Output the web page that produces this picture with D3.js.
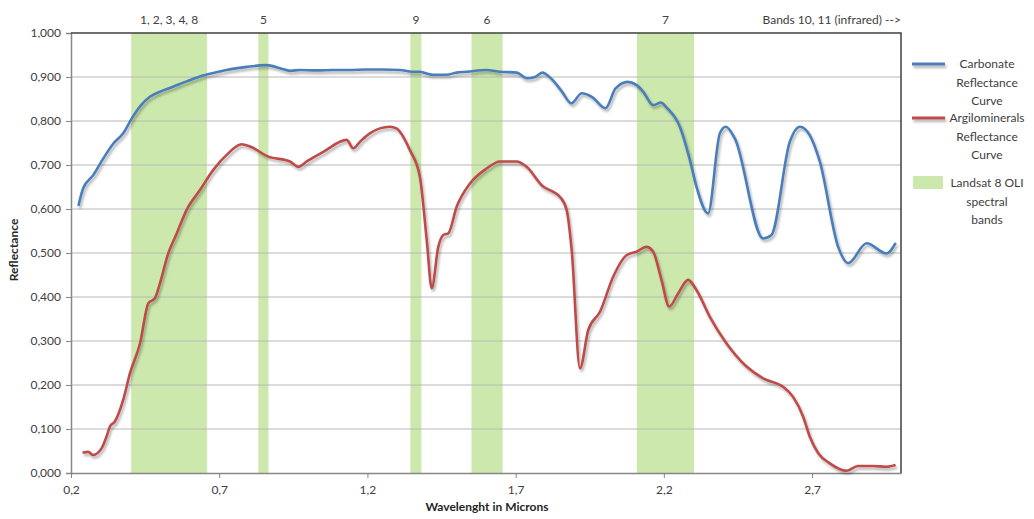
<!DOCTYPE html>
<html>
<head>
<meta charset="utf-8">
<script src="https://cdn.jsdelivr.net/npm/d3@7"></script>
<style>
  html, body { margin: 0; padding: 0; background: #ffffff; }
  svg { display: block; font-family: Lato, "Open Sans", sans-serif; }
</style>
</head>
<body>
<svg id="chart" width="1034" height="519"></svg>
<script>
// ---------------- DATA ----------------
const carbonateX = [0.225,0.241,0.275,0.309,0.343,0.376,0.405,0.435,0.466,0.505,0.544,0.590,0.635,0.680,0.725,0.793,0.860,0.905,0.940,0.972,1.030,1.084,1.140,1.197,1.250,1.310,1.350,1.377,1.400,1.422,1.467,1.500,1.535,1.602,1.647,1.704,1.739,1.765,1.790,1.819,1.855,1.888,1.923,1.957,2.003,2.037,2.078,2.107,2.130,2.164,2.190,2.210,2.254,2.288,2.310,2.349,2.389,2.409,2.439,2.535,2.563,2.625,2.659,2.692,2.726,2.788,2.822,2.884,2.951,2.982];
const carbonateY = [0.607,0.647,0.677,0.715,0.749,0.772,0.806,0.835,0.855,0.868,0.878,0.890,0.901,0.909,0.916,0.923,0.927,0.920,0.914,0.916,0.915,0.916,0.916,0.917,0.917,0.916,0.912,0.912,0.908,0.905,0.905,0.910,0.912,0.916,0.912,0.910,0.897,0.900,0.910,0.897,0.868,0.840,0.863,0.855,0.829,0.874,0.889,0.882,0.867,0.836,0.842,0.830,0.787,0.711,0.651,0.590,0.772,0.787,0.761,0.533,0.541,0.753,0.787,0.768,0.708,0.514,0.477,0.522,0.499,0.523];

const argiloX = [0.239,0.258,0.275,0.303,0.320,0.331,0.348,0.376,0.399,0.433,0.461,0.483,0.500,0.528,0.557,0.590,0.635,0.680,0.725,0.776,0.804,0.866,0.939,0.967,0.995,1.051,1.130,1.152,1.175,1.208,1.276,1.298,1.343,1.377,1.400,1.417,1.439,1.456,1.473,1.501,1.546,1.602,1.647,1.703,1.737,1.793,1.827,1.849,1.872,1.889,1.917,1.945,1.985,2.029,2.074,2.108,2.141,2.164,2.192,2.218,2.248,2.282,2.310,2.355,2.411,2.479,2.535,2.602,2.636,2.670,2.692,2.721,2.760,2.816,2.855,2.906,2.951,2.982];
const argiloY = [0.046,0.048,0.041,0.056,0.083,0.105,0.117,0.166,0.227,0.295,0.386,0.397,0.431,0.499,0.545,0.598,0.643,0.689,0.723,0.747,0.742,0.719,0.708,0.696,0.708,0.730,0.757,0.738,0.753,0.772,0.787,0.783,0.734,0.673,0.530,0.420,0.514,0.541,0.545,0.605,0.658,0.692,0.708,0.708,0.696,0.651,0.639,0.628,0.598,0.507,0.238,0.325,0.367,0.446,0.495,0.503,0.514,0.503,0.439,0.378,0.408,0.439,0.416,0.355,0.295,0.242,0.215,0.196,0.173,0.128,0.083,0.045,0.022,0.005,0.016,0.016,0.014,0.018];

const bandStart  = [0.403, 0.832, 1.345, 1.551, 2.109];
const bandEnd    = [0.659, 0.866, 1.382, 1.656, 2.302];
const bandLabels = ["1, 2, 3, 4, 8", "5", "9", "6", "7"];
const infraredLabel = "Bands 10, 11 (infrared) -->";

const xTickValues = [0.2, 0.7, 1.2, 1.7, 2.2, 2.7];
const xTickLabels = ["0,2", "0,7", "1,2", "1,7", "2,2", "2,7"];
const yTickValues = [0, 0.1, 0.2, 0.3, 0.4, 0.5, 0.6, 0.7, 0.8, 0.9, 1.0];
const yTickLabels = ["0,000","0,100","0,200","0,300","0,400","0,500","0,600","0,700","0,800","0,900","1,000"];

const xTitle = "Wavelenght in Microns";
const yTitle = "Reflectance";

const legendItems = [
  { type: "line", color: "#4a7ebb", lines: ["Carbonate", "Reflectance", "Curve"] },
  { type: "line", color: "#be4b48", lines: ["Argilominerals", "Reflectance", "Curve"] },
  { type: "rect", color: "#cce8ad", lines: ["Landsat 8 OLI", "spectral", "bands"] }
];

// ---------------- LAYOUT ----------------
const svg = d3.select("#chart");
const L = 71, R = 901, T = 33, B = 473;
const x = d3.scaleLinear().domain([0.2, 3.0]).range([L, R]);
const y = d3.scaleLinear().domain([0, 1]).range([B, T]);

const defs = svg.append("defs");
const f = defs.append("filter").attr("id", "shadow")
  .attr("filterUnits", "userSpaceOnUse")
  .attr("x", 0).attr("y", 0).attr("width", 1034).attr("height", 519);
f.append("feDropShadow").attr("dx", 1.5).attr("dy", 2.5).attr("stdDeviation", 1.3)
  .attr("flood-color", "#000").attr("flood-opacity", 0.3);

// bands
svg.append("g").selectAll("rect").data(bandStart).join("rect")
  .attr("x", (d) => x(d))
  .attr("y", T)
  .attr("width", (d, i) => x(bandEnd[i]) - x(d))
  .attr("height", B - T)
  .attr("fill", "#cce8ad");

// gridlines
svg.append("g").selectAll("line").data(yTickValues.slice(1, -1)).join("line")
  .attr("x1", L).attr("x2", R)
  .attr("y1", (d) => y(d)).attr("y2", (d) => y(d))
  .attr("stroke", "#b8b8b8").attr("stroke-width", 1);

// y axis
const yAxis = d3.axisLeft(y).tickValues(yTickValues)
  .tickFormat((d, i) => yTickLabels[i]).tickSize(5).tickPadding(5);
const gy = svg.append("g").attr("transform", `translate(${L},0)`).call(yAxis);
gy.select(".domain").attr("stroke", "#868686").attr("stroke-width", 1.5);
gy.selectAll(".tick line").attr("stroke", "#868686");
gy.selectAll(".tick text").attr("fill", "#404040").attr("font-size", 12).attr("font-family", "Lato, sans-serif");

// x axis
const xAxis = d3.axisBottom(x).tickValues(xTickValues)
  .tickFormat((d, i) => xTickLabels[i]).tickSize(5).tickSizeOuter(0).tickPadding(7);
const gx = svg.append("g").attr("transform", `translate(0,${B})`).call(xAxis);
gx.select(".domain").attr("stroke", "#868686").attr("stroke-width", 1.5);
gx.selectAll(".tick line").attr("stroke", "#868686");
gx.selectAll(".tick text").attr("fill", "#404040").attr("font-size", 12).attr("font-family", "Lato, sans-serif");

// top & right border
svg.append("path")
  .attr("d", `M${L},${T}H${R}V${B}`)
  .attr("fill", "none").attr("stroke", "#404040").attr("stroke-width", 1.5);

// curves
const line = d3.line().x((d) => x(d[0])).y((d) => y(d[1])).curve(d3.curveMonotoneX);
const carbonate = carbonateX.map((v, i) => [v, carbonateY[i]]);
const argilo = argiloX.map((v, i) => [v, argiloY[i]]);

svg.append("path").datum(argilo).attr("d", line)
  .attr("fill", "none").attr("stroke", "#be4b48").attr("stroke-width", 2.6)
  .attr("stroke-linejoin", "round").attr("filter", "url(#shadow)");
svg.append("path").datum(carbonate).attr("d", line)
  .attr("fill", "none").attr("stroke", "#4a7ebb").attr("stroke-width", 2.6)
  .attr("stroke-linejoin", "round").attr("filter", "url(#shadow)");

// band labels
svg.append("g").selectAll("text").data(bandLabels).join("text")
  .attr("x", (d, i) => x((bandStart[i] + bandEnd[i]) / 2))
  .attr("y", 24)
  .attr("text-anchor", "middle")
  .attr("font-size", 12).attr("fill", "#404040")
  .text((d) => d);
svg.append("text").attr("x", R).attr("y", 24).attr("text-anchor", "end")
  .attr("font-size", 12).attr("fill", "#404040").text(infraredLabel);

// axis titles
svg.append("text").attr("x", (L + R) / 2 + 1).attr("y", 511).attr("text-anchor", "middle")
  .attr("font-size", 12).attr("font-weight", "bold").attr("fill", "#262626").text(xTitle);
svg.append("text").attr("transform", `translate(18,${(T + B) / 2 - 3}) rotate(-90)`)
  .attr("text-anchor", "middle")
  .attr("font-size", 12).attr("font-weight", "bold").attr("fill", "#262626").text(yTitle);

// legend
const legendTop = [64, 118, 183];
const lg = svg.append("g");
legendItems.forEach((item, i) => {
  const cy = legendTop[i];
  if (item.type === "line") {
    lg.append("line").attr("x1", 912).attr("x2", 945).attr("y1", cy).attr("y2", cy)
      .attr("stroke", item.color).attr("stroke-width", 3).attr("filter", "url(#shadow)");
  } else {
    lg.append("rect").attr("x", 913).attr("y", cy - 7).attr("width", 30).attr("height", 13)
      .attr("fill", item.color);
  }
  item.lines.forEach((t, j) => {
    lg.append("text").attr("x", 987).attr("y", cy + 4 + j * 18.5)
      .attr("text-anchor", "middle").attr("font-size", 12).attr("fill", "#404040").text(t);
  });
});
</script>
</body>
</html>
